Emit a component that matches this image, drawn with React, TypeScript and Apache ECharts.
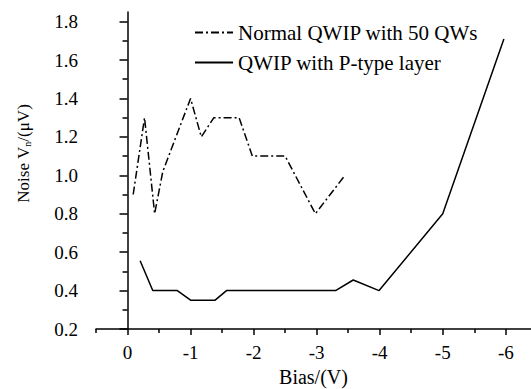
import React, { useEffect, useRef } from "react";
import * as echarts from "echarts";

const normalBias = [-0.09, -0.27, -0.43, -0.56, -1.0, -1.17, -1.37, -1.77, -1.98, -2.5, -2.98, -3.45];
const normalNoise = [0.9, 1.3, 0.8, 1.02, 1.4, 1.2, 1.3, 1.3, 1.1, 1.1, 0.8, 1.0];

const pBias = [-0.2, -0.4, -0.79, -1.0, -1.39, -1.57, -3.3, -3.58, -3.99, -5.0, -5.97];
const pNoise = [0.555, 0.4, 0.4, 0.35, 0.35, 0.4, 0.4, 0.455, 0.4, 0.8, 1.71];

const xMajor = [0, -1, -2, -3, -4, -5, -6];
const xMinor = [0.5, -0.5, -1.5, -2.5, -3.5, -4.5, -5.5];
const yMajor = [0.2, 0.4, 0.6, 0.8, 1.0, 1.2, 1.4, 1.6, 1.8];
const yMinor = [0.3, 0.5, 0.7, 0.9, 1.1, 1.3, 1.5, 1.7];

const seriesNames = ["Normal QWIP with 50 QWs", "QWIP with P-type layer"];

const FONT = "'Liberation Serif', 'Times New Roman', serif";

export default function App() {
  const ref = useRef<HTMLDivElement>(null);
  useEffect(() => {
    if (!ref.current) return;
    const chart = echarts.init(ref.current, null, { renderer: "svg" });
    const axisLineStyle = { color: "#000", width: 1.5 };
    const xBase = {
      type: "value",
      min: -6.4,
      max: 0.5,
      inverse: true,
      position: "bottom",
      offset: 0,
      splitLine: { show: false },
    };
    const yBase = {
      type: "value",
      min: 0.2,
      max: 1.85,
      position: "left",
      offset: 0,
      splitLine: { show: false },
    };
    chart.setOption({
      animation: false,
      backgroundColor: "#fff",
      grid: { left: 96, right: 0, top: 12, bottom: 60, containLabel: false, outerBoundsMode: "none" },
      legend: {
        orient: "vertical",
        left: 194,
        top: 22,
        padding: 0,
        itemWidth: 38,
        itemHeight: 14,
        itemGap: 9,
        data: seriesNames,
        itemStyle: { opacity: 0 },
        textStyle: { fontFamily: FONT, fontSize: 21, color: "#000" },
      },
      xAxis: [
        {
          ...xBase,
          name: "Bias/(V)",
          nameLocation: "middle",
          nameGap: 35,
          nameTextStyle: { fontFamily: FONT, fontSize: 20, color: "#000" },
          axisLine: { show: true, lineStyle: axisLineStyle },
          axisTick: { show: true, length: 6, lineStyle: axisLineStyle, customValues: xMajor },
          axisLabel: {
            color: "#000",
            fontFamily: FONT,
            fontSize: 19,
            margin: 14,
            customValues: xMajor,
            formatter: (v: number) => String(v),
          },
        },
        {
          ...xBase,
          axisLine: { show: false },
          axisTick: { show: true, length: 4, lineStyle: axisLineStyle, customValues: xMinor },
          axisLabel: { show: false, customValues: xMinor },
        },
      ],
      yAxis: [
        {
          ...yBase,
          name: "{a|Noise V}{s|n}{a|/(μV)}",
          nameLocation: "middle",
          nameGap: 64,
          nameRotate: 90,
          nameTextStyle: {
            fontFamily: FONT,
            color: "#000",
            padding: [0, 0, 0, 34],
            rich: {
              a: { fontFamily: FONT, fontSize: 17, color: "#000" },
              s: { fontFamily: FONT, fontSize: 10, color: "#000", verticalAlign: "bottom", padding: [8, 0, 0, 0] },
            },
          },
          axisLine: { show: true, lineStyle: axisLineStyle },
          axisTick: { show: true, length: 8, lineStyle: axisLineStyle, customValues: yMajor },
          axisLabel: {
            color: "#000",
            fontFamily: FONT,
            fontSize: 19,
            margin: 18,
            customValues: yMajor,
            formatter: (v: number) => v.toFixed(1),
          },
        },
        {
          ...yBase,
          axisLine: { show: false },
          axisTick: { show: true, length: 5, lineStyle: axisLineStyle, customValues: yMinor },
          axisLabel: { show: false, customValues: yMinor },
        },
      ],
      series: [
        {
          name: seriesNames[0],
          type: "line",
          xAxisIndex: 0,
          yAxisIndex: 0,
          symbol: "none",
          data: normalBias.map((b, i) => [b, normalNoise[i]]),
          lineStyle: { color: "#000", width: 1.5, type: [8, 3, 2, 3] },
          itemStyle: { color: "#000" },
        },
        {
          name: seriesNames[1],
          type: "line",
          xAxisIndex: 0,
          yAxisIndex: 0,
          symbol: "none",
          data: pBias.map((b, i) => [b, pNoise[i]]),
          lineStyle: { color: "#000", width: 1.5, type: "solid" },
          itemStyle: { color: "#000" },
        },
      ],
    });
    return () => chart.dispose();
  }, []);
  return <div ref={ref} style={{ width: 531, height: 389, position: "absolute", left: 0, top: 0 }} />;
}
